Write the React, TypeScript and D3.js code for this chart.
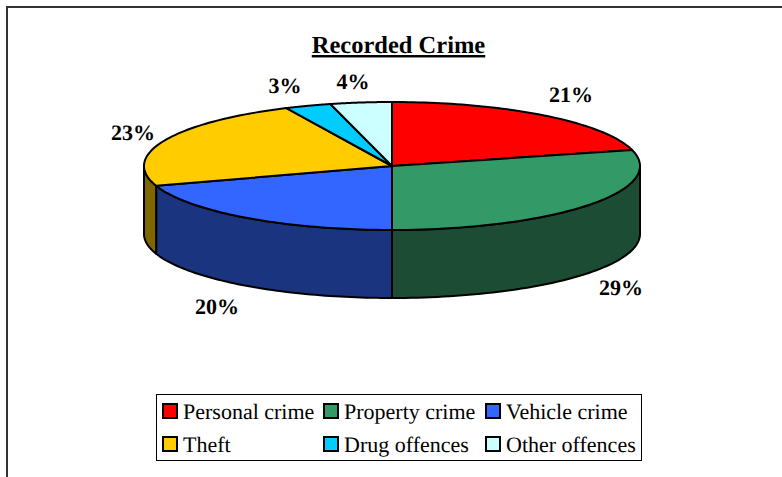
import React from "react";
import * as d3 from "d3";

const categories = ["Personal crime", "Property crime", "Vehicle crime", "Theft", "Drug offences", "Other offences"];
const values = [21, 29, 20, 23, 3, 4];
const topColors = ["#FF0000", "#339966", "#3366FF", "#FFCC00", "#00CCFF", "#CCFFFF"];
const sideColors = ["#800000", "#1D4C34", "#1A347F", "#806600", "#006680", "#668080"];
const labelSpots: [number, number][] = [[571, 102], [621, 295], [217, 314], [133, 140], [285, 93], [353, 89]];
const legendCols = [163, 324, 486];
const legendRows = [404, 437];

const cx = 392, cy = 166, rx = 248, ry = 64, depth = 68;
const px = (t: number) => cx + rx * Math.sin(t);
const py = (t: number) => cy - ry * Math.cos(t);

const arcPts = (a: number, b: number, dy = 0): [number, number][] =>
  d3.range(0, 61).map((i) => {
    const t = a + ((b - a) * i) / 60;
    return [px(t), py(t) + dy] as [number, number];
  });
const line = d3.line();

export default function App() {
  const arcs = d3.pie<number>().sort(null)(values);
  const lo = Math.PI / 2, hi = (3 * Math.PI) / 2;
  return (
    <svg width={782} height={477} textRendering="geometricPrecision" style={{ position: "absolute", left: 0, top: 0, fontFamily: "'Liberation Serif'" }}>
      <rect width={782} height={477} fill="#fff" />
      <path d="M7 477V7H782" fill="none" stroke="#333" strokeWidth={2} />
      <text x={398.5} y={53} textAnchor="middle" fontSize={24.5} fontWeight="bold" textDecoration="underline">Recorded Crime</text>
      {arcs.map((d, i) => {
        const a = Math.max(d.startAngle, lo), b = Math.min(d.endAngle, hi);
        if (b <= a) return null;
        const pts = [...arcPts(a, b), ...arcPts(b, a, depth)];
        return <path key={i} d={line(pts) + "Z"} fill={sideColors[i]} stroke="#000" strokeWidth={2} strokeLinejoin="round" />;
      })}
      {arcs.map((d, i) => {
        const pts: [number, number][] = [[cx, cy], ...arcPts(d.startAngle, d.endAngle)];
        return <path key={i} d={line(pts) + "Z"} fill={topColors[i]} stroke="#000" strokeWidth={2} strokeLinejoin="round" />;
      })}
      {values.map((v, i) => (
        <text key={i} x={labelSpots[i][0]} y={labelSpots[i][1]} textAnchor="middle" fontSize={22} fontWeight="bold">{v}%</text>
      ))}
      <rect x={156.5} y={394.5} width={485} height={66} fill="#fff" stroke="#000" strokeWidth={1} />
      {categories.map((c, i) => {
        const x = legendCols[i % 3], y = legendRows[Math.floor(i / 3)];
        return (
          <g key={c}>
            <rect x={x} y={y} width={14} height={14} fill={topColors[i]} stroke="#000" strokeWidth={2} />
            <text x={x + 20} y={y + 14.5} fontSize={22}>{c}</text>
          </g>
        );
      })}
    </svg>
  );
}
